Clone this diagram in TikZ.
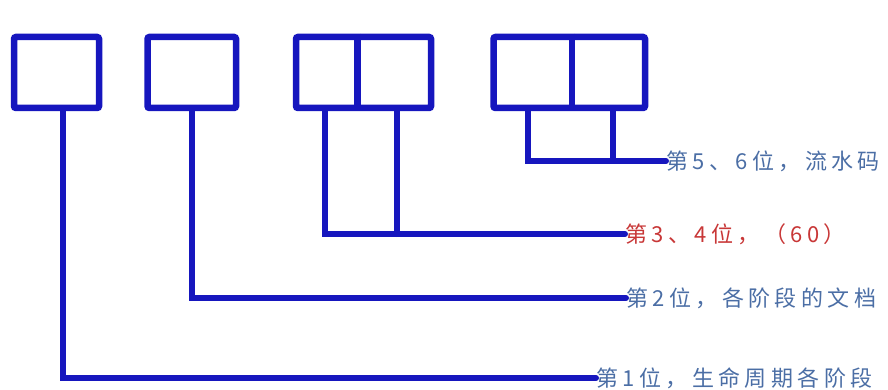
\documentclass[tikz,border=0pt]{standalone}
\usepackage{fontspec}
\newfontfamily\cjk[LetterSpace=20]{Noto Sans CJK SC}
\definecolor{linecol}{RGB}{22,22,190}
\definecolor{txtblue}{RGB}{75,110,165}
\definecolor{txtred}{RGB}{200,55,55}
\begin{document}
\begin{tikzpicture}[x=1pt,y=-1pt,
  digitbox/.style={draw=linecol,line width=6.5pt,rounded corners=2pt,inner sep=0pt,minimum height=71pt},
  wire/.style={draw=linecol,line width=6pt,line cap=round},
  lbl/.style={anchor=west,inner sep=0pt,font=\cjk\fontsize{22}{24}\selectfont,text=txtblue}]
\useasboundingbox (0,0) rectangle (888,390);
% boxes
\node[digitbox,minimum width=85pt] (b1) at (56.5,72.5) {};
\node[digitbox,minimum width=88.5pt] (b2) at (191.75,72.5) {};
\node[digitbox,minimum width=135pt] (b3) at (363.5,72.5) {};
\node[digitbox,minimum width=151.5pt] (b4) at (569.25,72.5) {};
% dividers
\path (357.5,0) coordinate (d3) (572,0) coordinate (d4);
\draw[linecol,line width=6.5pt] (b3.north -| d3) -- (b3.south -| d3);
\draw[linecol,line width=6.5pt] (b4.north -| d4) -- (b4.south -| d4);
% labels
\node[lbl] (t4) at (666,161) {第5、6位，流水码};
\node[lbl,text=txtred] (t3) at (625,234) {第3、4位，（60）};
\node[lbl] (t2) at (626,298) {第2位，各阶段的文档};
\node[lbl] (t1) at (596,378) {第1位，生命周期各阶段};
% stem x positions
\path (63,0) coordinate (x1) (192,0) coordinate (x2)
      (325,0) coordinate (x3a) (397,0) coordinate (x3b)
      (528,0) coordinate (x4a) (613,0) coordinate (x4b);
% connectors
\draw[wire,line join=miter] (b1.south -| x1) |- (t1.west);
\draw[wire,line join=miter] (b2.south -| x2) |- (t2.west);
\draw[wire,line join=miter] (b3.south -| x3a) |- (t3.west);
\draw[wire] (b3.south -| x3b) -- (x3b |- t3.west);
\draw[wire,line join=miter] (b4.south -| x4a) |- (t4.west);
\draw[wire] (b4.south -| x4b) -- (x4b |- t4.west);
\end{tikzpicture}
\end{document}
